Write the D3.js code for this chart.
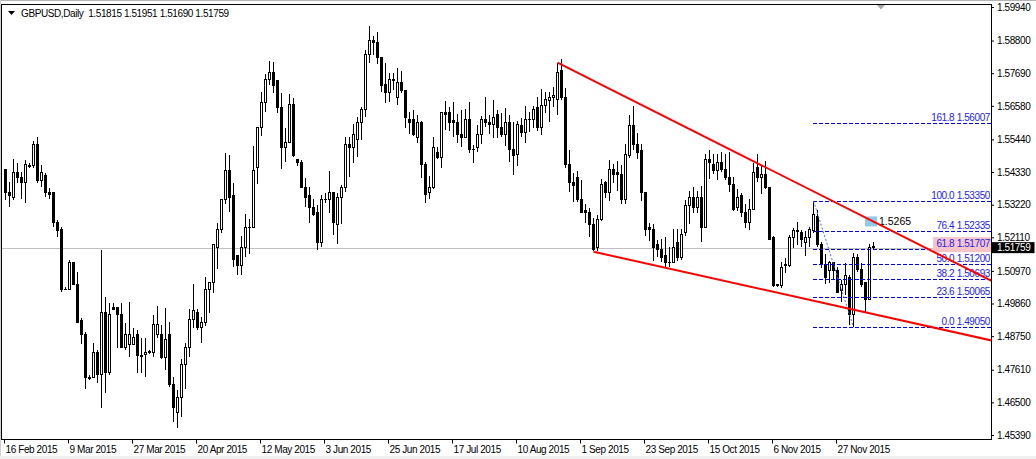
<!DOCTYPE html>
<html>
<head>
<meta charset="utf-8">
<script src="https://cdn.jsdelivr.net/npm/d3@7"></script>
<style>
  html, body { margin: 0; padding: 0; background: #fff; }
  svg { display: block; }
  text { font-family: "Liberation Sans", Arial, sans-serif; }
</style>
</head>
<body>
<div id="chart"></div>
<script>
// GBPUSD daily, one entry per bar (bar 0 = 16 Feb 2015)
const dateLabels = ['16 Feb 2015', '9 Mar 2015', '27 Mar 2015', '20 Apr 2015', '12 May 2015', '3 Jun 2015',
  '25 Jun 2015', '17 Jul 2015', '10 Aug 2015', '1 Sep 2015', '23 Sep 2015', '15 Oct 2015', '6 Nov 2015', '27 Nov 2015'];
const dateTickBars = [0, 16, 32, 48, 64, 80, 96, 112, 128, 144, 160, 176, 192, 208];
const priceTicks = [1.59940, 1.58800, 1.57690, 1.56580, 1.55440, 1.54330, 1.53220, 1.52110,
  1.50970, 1.49860, 1.48750, 1.47610, 1.46500, 1.45390];

const opens = [
  1.5440, 1.5362, 1.5348, 1.5433, 1.5413, 1.5396, 1.5454, 1.5454, 1.5528, 1.5403,
  1.5420, 1.5362, 1.5362, 1.5263, 1.5239, 1.5035, 1.5035, 1.5127, 1.5052, 1.4927,
  1.4882, 1.4733, 1.4733, 1.4821, 1.4743, 1.4957, 1.4750, 1.4974, 1.4971, 1.4950,
  1.4838, 1.4845, 1.4845, 1.4882, 1.4808, 1.4814, 1.4821, 1.4821, 1.4879, 1.4879,
  1.4804, 1.4879, 1.4709, 1.4614, 1.4668, 1.4780, 1.4838, 1.4930, 1.4957, 1.4903,
  1.4920, 1.5035, 1.5056, 1.5175, 1.5236, 1.5338, 1.5437, 1.5352, 1.5148, 1.5114,
  1.5178, 1.5246, 1.5243, 1.5447, 1.5586, 1.5668, 1.5746, 1.5773, 1.5743, 1.5654,
  1.5515, 1.5532, 1.5661, 1.5474, 1.5467, 1.5382, 1.5352, 1.5314, 1.5294, 1.5195,
  1.5341, 1.5338, 1.5362, 1.5256, 1.5345, 1.5382, 1.5528, 1.5518, 1.5542, 1.5600,
  1.5647, 1.5831, 1.5879, 1.5875, 1.5824, 1.5729, 1.5702, 1.5746, 1.5688, 1.5736,
  1.5709, 1.5613, 1.5610, 1.5549, 1.5603, 1.5460, 1.5362, 1.5379, 1.5501, 1.5484,
  1.5637, 1.5637, 1.5607, 1.5603, 1.5562, 1.5552, 1.5610, 1.5511, 1.5515, 1.5559,
  1.5613, 1.5600, 1.5596, 1.5630, 1.5586, 1.5562, 1.5600, 1.5508, 1.5494, 1.5590,
  1.5569, 1.5610, 1.5610, 1.5654, 1.5583, 1.5658, 1.5675, 1.5688, 1.5678, 1.5777,
  1.5688, 1.5460, 1.5399, 1.5413, 1.5341, 1.5301, 1.5297, 1.5256, 1.5175, 1.5273,
  1.5396, 1.5365, 1.5443, 1.5430, 1.5426, 1.5341, 1.5488, 1.5590, 1.5525, 1.5505,
  1.5362, 1.5243, 1.5236, 1.5185, 1.5171, 1.5148, 1.5124, 1.5124, 1.5195, 1.5141,
  1.5226, 1.5318, 1.5345, 1.5311, 1.5348, 1.5243, 1.5474, 1.5457, 1.5437, 1.5464,
  1.5443, 1.5416, 1.5392, 1.5314, 1.5352, 1.5297, 1.5260, 1.5307, 1.5450, 1.5416,
  1.5423, 1.5382, 1.5209, 1.5046, 1.5046, 1.5114, 1.5114, 1.5209, 1.5233, 1.5226,
  1.5195, 1.5209, 1.5233, 1.5283, 1.5185, 1.5120, 1.5097, 1.5127, 1.5097, 1.5029,
  1.5052, 1.5076, 1.4947, 1.5141, 1.5100, 1.5059, 1.5001, 1.51815
];
const highs = [
  1.5440, 1.5399, 1.5477, 1.5464, 1.5433, 1.5474, 1.5464, 1.5539, 1.5552, 1.5457,
  1.5430, 1.5379, 1.5365, 1.5270, 1.5246, 1.5042, 1.5134, 1.5127, 1.5093, 1.4937,
  1.4889, 1.4743, 1.4852, 1.4828, 1.5168, 1.5008, 1.4988, 1.4988, 1.4971, 1.4988,
  1.4920, 1.4991, 1.4903, 1.4896, 1.4869, 1.4869, 1.4828, 1.4947, 1.4978, 1.4913,
  1.4971, 1.4923, 1.4736, 1.4692, 1.4797, 1.4852, 1.4967, 1.5052, 1.4967, 1.4940,
  1.5076, 1.5059, 1.5185, 1.5260, 1.5341, 1.5498, 1.5491, 1.5396, 1.5148, 1.5216,
  1.5290, 1.5273, 1.5522, 1.5586, 1.5705, 1.5766, 1.5811, 1.5807, 1.5746, 1.5702,
  1.5583, 1.5698, 1.5685, 1.5474, 1.5474, 1.5413, 1.5382, 1.5341, 1.5321, 1.5355,
  1.5362, 1.5437, 1.5365, 1.5362, 1.5389, 1.5552, 1.5552, 1.5596, 1.5620, 1.5654,
  1.5848, 1.5930, 1.5896, 1.5909, 1.5824, 1.5804, 1.5770, 1.5770, 1.5787, 1.5777,
  1.5709, 1.5637, 1.5644, 1.5627, 1.5607, 1.5467, 1.5420, 1.5552, 1.5518, 1.5634,
  1.5675, 1.5654, 1.5671, 1.5630, 1.5644, 1.5647, 1.5671, 1.5525, 1.5593, 1.5624,
  1.5688, 1.5627, 1.5678, 1.5644, 1.5634, 1.5651, 1.5627, 1.5603, 1.5607, 1.5617,
  1.5658, 1.5637, 1.5658, 1.5688, 1.5715, 1.5705, 1.5705, 1.5722, 1.5804, 1.5817,
  1.5719, 1.5508, 1.5430, 1.5437, 1.5406, 1.5324, 1.5311, 1.5277, 1.5287, 1.5409,
  1.5403, 1.5474, 1.5460, 1.5471, 1.5457, 1.5528, 1.5627, 1.5658, 1.5566, 1.5528,
  1.5362, 1.5260, 1.5256, 1.5202, 1.5205, 1.5212, 1.5178, 1.5239, 1.5239, 1.5239,
  1.5338, 1.5369, 1.5382, 1.5369, 1.5386, 1.5494, 1.5508, 1.5494, 1.5494, 1.5501,
  1.5494, 1.5501, 1.5416, 1.5375, 1.5362, 1.5324, 1.5341, 1.5464, 1.5494, 1.5457,
  1.5471, 1.5382, 1.5216, 1.5052, 1.5127, 1.5141, 1.5219, 1.5243, 1.5263, 1.5236,
  1.5233, 1.5246, 1.5335, 1.5304, 1.5195, 1.5154, 1.5131, 1.5127, 1.5110, 1.5066,
  1.5124, 1.5083, 1.5158, 1.5154, 1.5124, 1.5059, 1.5188, 1.51951
];
const lows = [
  1.5338, 1.5314, 1.5338, 1.5396, 1.5341, 1.5328, 1.5447, 1.5447, 1.5396, 1.5382,
  1.5348, 1.5341, 1.5246, 1.5212, 1.5025, 1.5032, 1.5032, 1.5049, 1.4920, 1.4848,
  1.4695, 1.4726, 1.4733, 1.4716, 1.4631, 1.4682, 1.4743, 1.4964, 1.4835, 1.4835,
  1.4828, 1.4804, 1.4845, 1.4750, 1.4750, 1.4736, 1.4814, 1.4804, 1.4869, 1.4797,
  1.4760, 1.4702, 1.4583, 1.4563, 1.4600, 1.4695, 1.4804, 1.4903, 1.4896, 1.4852,
  1.4910, 1.4954, 1.5022, 1.5103, 1.5226, 1.5324, 1.5297, 1.5110, 1.5083, 1.5083,
  1.5144, 1.5154, 1.5243, 1.5392, 1.5556, 1.5637, 1.5729, 1.5702, 1.5634, 1.5443,
  1.5467, 1.5532, 1.5484, 1.5454, 1.5379, 1.5314, 1.5260, 1.5283, 1.5168, 1.5178,
  1.5328, 1.5294, 1.5219, 1.5188, 1.5256, 1.5365, 1.5416, 1.5464, 1.5484, 1.5542,
  1.5620, 1.5804, 1.5831, 1.5800, 1.5705, 1.5668, 1.5671, 1.5712, 1.5661, 1.5702,
  1.5583, 1.5562, 1.5556, 1.5532, 1.5413, 1.5328, 1.5341, 1.5375, 1.5477, 1.5447,
  1.5576, 1.5573, 1.5552, 1.5532, 1.5518, 1.5549, 1.5498, 1.5464, 1.5501, 1.5528,
  1.5586, 1.5562, 1.5549, 1.5549, 1.5552, 1.5522, 1.5467, 1.5423, 1.5454, 1.5552,
  1.5532, 1.5569, 1.5583, 1.5573, 1.5559, 1.5634, 1.5603, 1.5654, 1.5627, 1.5678,
  1.5447, 1.5365, 1.5331, 1.5331, 1.5294, 1.5260, 1.5212, 1.5165, 1.5165, 1.5267,
  1.5345, 1.5335, 1.5396, 1.5369, 1.5324, 1.5324, 1.5481, 1.5508, 1.5477, 1.5335,
  1.5216, 1.5199, 1.5131, 1.5144, 1.5127, 1.5110, 1.5110, 1.5124, 1.5131, 1.5134,
  1.5216, 1.5256, 1.5294, 1.5294, 1.5195, 1.5243, 1.5409, 1.5426, 1.5406, 1.5433,
  1.5406, 1.5365, 1.5301, 1.5301, 1.5280, 1.5243, 1.5236, 1.5307, 1.5399, 1.5358,
  1.5375, 1.5202, 1.5042, 1.5042, 1.5039, 1.5090, 1.5110, 1.5175, 1.5185, 1.5178,
  1.5148, 1.5178, 1.5226, 1.5178, 1.5107, 1.5052, 1.5056, 1.5066, 1.5025, 1.4991,
  1.5015, 1.4912, 1.4905, 1.5093, 1.5042, 1.4957, 1.5001, 1.51690
];
const closes = [
  1.5362, 1.5352, 1.5433, 1.5413, 1.5396, 1.5457, 1.5453, 1.5528, 1.5403, 1.5433,
  1.5362, 1.5358, 1.5260, 1.5233, 1.5032, 1.5034, 1.5127, 1.5052, 1.4923, 1.4882,
  1.4736, 1.4732, 1.4821, 1.4743, 1.4954, 1.4750, 1.4950, 1.4967, 1.4947, 1.4838,
  1.4882, 1.4882, 1.4872, 1.4808, 1.4807, 1.4821, 1.4822, 1.4916, 1.4916, 1.4804,
  1.4862, 1.4709, 1.4631, 1.4665, 1.4780, 1.4838, 1.4930, 1.4961, 1.4903, 1.4923,
  1.5035, 1.5056, 1.5185, 1.5236, 1.5338, 1.5437, 1.5348, 1.5134, 1.5114, 1.5178,
  1.5246, 1.5243, 1.5437, 1.5586, 1.5668, 1.5746, 1.5773, 1.5726, 1.5654, 1.5515,
  1.5532, 1.5661, 1.5488, 1.5464, 1.5382, 1.5348, 1.5314, 1.5290, 1.5195, 1.5341,
  1.5338, 1.5362, 1.5263, 1.5348, 1.5382, 1.5528, 1.5518, 1.5562, 1.5600, 1.5647,
  1.5831, 1.5879, 1.5872, 1.5824, 1.5726, 1.5702, 1.5746, 1.5743, 1.5736, 1.5709,
  1.5617, 1.5603, 1.5562, 1.5603, 1.5460, 1.5358, 1.5379, 1.5518, 1.5484, 1.5634,
  1.5630, 1.5603, 1.5600, 1.5559, 1.5552, 1.5610, 1.5511, 1.5508, 1.5559, 1.5610,
  1.5600, 1.5596, 1.5620, 1.5586, 1.5562, 1.5603, 1.5508, 1.5488, 1.5593, 1.5566,
  1.5610, 1.5613, 1.5644, 1.5583, 1.5658, 1.5678, 1.5688, 1.5692, 1.5773, 1.5685,
  1.5457, 1.5399, 1.5386, 1.5338, 1.5297, 1.5294, 1.5256, 1.5168, 1.5273, 1.5392,
  1.5365, 1.5443, 1.5423, 1.5423, 1.5341, 1.5491, 1.5590, 1.5525, 1.5501, 1.5362,
  1.5239, 1.5236, 1.5178, 1.5168, 1.5144, 1.5124, 1.5127, 1.5178, 1.5141, 1.5222,
  1.5318, 1.5345, 1.5314, 1.5345, 1.5243, 1.5477, 1.5464, 1.5437, 1.5464, 1.5443,
  1.5416, 1.5392, 1.5307, 1.5348, 1.5297, 1.5260, 1.5307, 1.5430, 1.5416, 1.5423,
  1.5382, 1.5205, 1.5046, 1.5049, 1.5110, 1.5117, 1.5209, 1.5233, 1.5232, 1.5202,
  1.5209, 1.5236, 1.5290, 1.5185, 1.5120, 1.5076, 1.5127, 1.5097, 1.5025, 1.5052,
  1.5080, 1.4947, 1.5141, 1.5100, 1.5049, 1.5001, 1.5175, 1.51759
];

// Fibonacci retracement (anchored bar 202 high -> bar 212 low)
const fibLevels = [161.8, 100.0, 76.4, 61.8, 50.0, 38.2, 23.6, 0.0];
const fibPrices = [1.56007, 1.53350, 1.52335, 1.51707, 1.51200, 1.50693, 1.50065, 1.49050];
const fibAnchorBars = [202, 212];
const fibAnchorPrices = [1.53350, 1.49050];

// red trend lines (rays to the right), two anchors each: [bar, price]
const upperTrend = [[138, 1.5805], [208, 1.5326]];
const lowerTrend = [[147, 1.5162], [208, 1.4977]];

const priceLabel = { bar: 215, price: 1.5265, text: '1.5265' };

const W = 1036, H = 459;
const plot = { left: 1.5, top: 4.5, right: 991, bottom: 439.5 };

const svg = d3.select('#chart').append('svg')
  .attr('width', W).attr('height', H);

svg.append('rect').attr('width', W).attr('height', H).attr('fill', '#fff');
svg.append('line').attr('x1', 0).attr('x2', W).attr('y1', 0.5).attr('y2', 0.5).attr('stroke', '#b4b4b4');
svg.append('line').attr('x1', 0.5).attr('x2', 0.5).attr('y1', 0).attr('y2', H).attr('stroke', '#d0d0d0');
svg.append('rect').attr('x', 0).attr('y', 456).attr('width', W).attr('height', 3).attr('fill', '#f0f0f0');

const x = d3.scaleLinear().domain([0, 217]).range([5.5, 873.5]);
const y = d3.scaleLinear().domain([1.45390, 1.59940]).range([435, 7]);

svg.append('clipPath').attr('id', 'plotClip')
  .append('rect')
  .attr('x', plot.left).attr('y', plot.top)
  .attr('width', plot.right - plot.left).attr('height', plot.bottom - plot.top);

const g = svg.append('g').attr('clip-path', 'url(#plotClip)');

// last price line
const last = closes.length - 1;
g.append('line')
  .attr('x1', plot.left).attr('x2', plot.right)
  .attr('y1', Math.round(y(closes[last])) + 0.5).attr('y2', Math.round(y(closes[last])) + 0.5)
  .attr('stroke', '#c0c0c0');

// candles
const bars = d3.range(opens.length);
const candle = g.append('g').attr('shape-rendering', 'crispEdges')
  .selectAll('g').data(bars).join('g');

candle.append('line')
  .attr('x1', i => x(i)).attr('x2', i => x(i))
  .attr('y1', i => y(highs[i])).attr('y2', i => y(lows[i]))
  .attr('stroke', '#000');

candle.append('rect')
  .attr('x', i => x(i) - 1)
  .attr('width', 2)
  .attr('y', i => y(Math.max(opens[i], closes[i])))
  .attr('height', i => Math.max(0.6, Math.abs(y(opens[i]) - y(closes[i]))))
  .attr('fill', i => closes[i] >= opens[i] ? '#fff' : '#000')
  .attr('stroke', '#000');

// fibonacci
const fibG = g.append('g');
fibG.selectAll('path.fib').data(fibPrices).join('path')
  .attr('class', 'fib')
  .attr('d', d => {
    const yy = Math.round(y(d)) + 0.5;
    return `M${x(fibAnchorBars[0]) - 0.5},${yy}H${plot.right}`;
  })
  .attr('fill', 'none')
  .style('stroke', '#0000ff')
  .style('stroke-width', 1)
  .style('stroke-dasharray', '4,2');

fibG.append('line')
  .attr('x1', x(fibAnchorBars[0])).attr('y1', y(fibAnchorPrices[0]))
  .attr('x2', x(fibAnchorBars[1])).attr('y2', y(fibAnchorPrices[1]))
  .attr('stroke', '#4a6ae8').attr('stroke-dasharray', '2,2');

// highlighted 61.8 label background
fibG.append('rect')
  .attr('x', 933).attr('width', plot.right - 933)
  .attr('y', y(fibPrices[3]) - 12).attr('height', 15)
  .attr('fill', '#f6c3cb');

// price label object
g.append('rect')
  .attr('x', x(priceLabel.bar) - 0.5).attr('y', y(priceLabel.price) - 5)
  .attr('width', 12).attr('height', 10)
  .attr('fill', '#8fcbe8');
g.append('text')
  .attr('x', x(priceLabel.bar) + 13.5).attr('y', y(priceLabel.price) + 3.5)
  .attr('font-family', '"DejaVu Sans", Verdana, sans-serif')
  .attr('font-size', 10.5).attr('fill', '#000')
  .text(priceLabel.text);

// trend lines
function rayPoints(tl) {
  const [[b1, p1], [b2, p2]] = tl;
  const bEnd = x.invert(plot.right + 5);
  const pEnd = p1 + (p2 - p1) * (bEnd - b1) / (b2 - b1);
  return [[x(b1), y(p1)], [x(bEnd), y(pEnd)]];
}
[upperTrend, lowerTrend].forEach(tl => {
  g.append('path')
    .attr('d', d3.line()(rayPoints(tl)))
    .attr('stroke', '#ff0000').attr('stroke-width', 2).attr('fill', 'none');
});

fibG.selectAll('text').data(fibLevels).join('text')
  .attr('x', 990)
  .attr('y', (d, i) => Math.round(y(fibPrices[i])) - 2)
  .attr('text-anchor', 'end')
  .attr('font-size', 10).attr('letter-spacing', -0.4)
  .attr('fill', '#2323f0')
  .text((d, i) => d.toFixed(1) + ' ' + fibPrices[i].toFixed(5));

// chart shift marker
svg.append('path').attr('d', 'M877,5 L885,5 L881,9.5 Z').attr('fill', '#a8a8a8');

// frame
svg.append('rect')
  .attr('x', plot.left).attr('y', plot.top)
  .attr('width', plot.right - plot.left + 0.5).attr('height', plot.bottom - plot.top)
  .attr('fill', 'none').attr('stroke', '#000');

// header
svg.append('path').attr('d', 'M8,11 L15,11 L11.5,15 Z').attr('fill', '#000');
svg.append('text')
  .attr('x', 21).attr('y', 16.5)
  .attr('font-size', 10).attr('letter-spacing', -0.4)
  .attr('fill', '#000')
  .style('white-space', 'pre')
  .text('GBPUSD,Daily  ' + [opens[last], highs[last], lows[last], closes[last]].map(v => v.toFixed(5)).join(' '));

// right price axis
const yAxis = svg.append('g')
  .attr('transform', `translate(${plot.right},0)`)
  .call(d3.axisRight(y).tickValues(priceTicks).tickSize(3).tickPadding(3).tickFormat(d3.format('.5f')));
yAxis.select('.domain').remove();
yAxis.selectAll('text').attr('font-family', '"Liberation Sans", Arial, sans-serif')
  .attr('font-size', 10).attr('letter-spacing', -0.4).attr('fill', '#000');
yAxis.selectAll('line').attr('stroke', '#000');

// last price box on the axis
const lastY = y(closes[last]);
svg.append('rect')
  .attr('x', plot.right + 0.5).attr('y', lastY - 5.5)
  .attr('width', 43).attr('height', 11).attr('fill', '#000');
svg.append('text')
  .attr('x', plot.right + 6).attr('y', lastY + 3.5)
  .attr('font-size', 10).attr('letter-spacing', -0.4).attr('fill', '#fff')
  .text(closes[last].toFixed(5));

// bottom time axis
const xAxis = svg.append('g')
  .attr('transform', `translate(-1.5,${plot.bottom})`)
  .call(d3.axisBottom(x).tickValues(dateTickBars).tickSize(4).tickFormat((d, i) => dateLabels[i]));
xAxis.select('.domain').remove();
xAxis.selectAll('line').attr('stroke', '#000');
xAxis.selectAll('text')
  .attr('text-anchor', 'start').attr('x', 1).attr('y', 6).attr('dy', '0.71em')
  .attr('font-family', '"Liberation Sans", Arial, sans-serif')
  .attr('font-size', 10).attr('letter-spacing', -0.4).attr('fill', '#000');
</script>
</body>
</html>
